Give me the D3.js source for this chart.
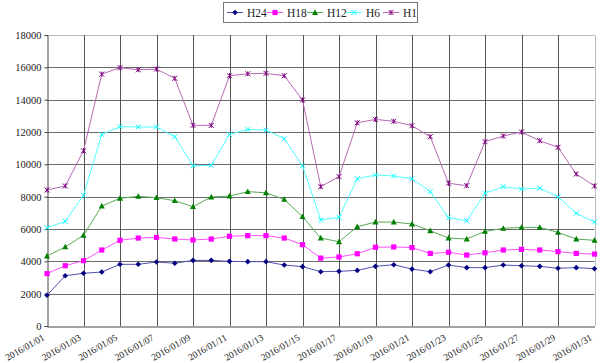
<!DOCTYPE html>
<html><head><meta charset="utf-8">
<script src="https://cdn.jsdelivr.net/npm/d3@7"></script>
<style>body{margin:0;background:#fff}svg{display:block}</style>
</head><body>
<svg id="c" width="600" height="363"></svg>
<script>
const dates = ["2016/01/01","2016/01/02","2016/01/03","2016/01/04","2016/01/05","2016/01/06","2016/01/07","2016/01/08","2016/01/09","2016/01/10","2016/01/11","2016/01/12","2016/01/13","2016/01/14","2016/01/15","2016/01/16","2016/01/17","2016/01/18","2016/01/19","2016/01/20","2016/01/21","2016/01/22","2016/01/23","2016/01/24","2016/01/25","2016/01/26","2016/01/27","2016/01/28","2016/01/29","2016/01/30","2016/01/31"];
const H24 = [1900,3110,3260,3340,3815,3815,3960,3880,4060,4060,4000,3980,3980,3770,3670,3360,3380,3440,3690,3790,3520,3360,3770,3610,3610,3770,3730,3690,3570,3610,3545];
const H18 = [3240,3730,4040,4700,5300,5440,5480,5380,5320,5380,5550,5590,5590,5440,5030,4200,4270,4470,4870,4890,4850,4490,4560,4390,4530,4700,4740,4700,4600,4490,4450];
const H12 = [4330,4890,5610,7420,7900,8020,7940,7750,7380,7980,8040,8310,8240,7830,6760,5440,5210,6140,6430,6430,6310,5890,5440,5380,5850,6040,6100,6100,5790,5380,5300];
const H6  = [6080,6470,8080,11850,12330,12310,12310,11710,9910,9940,11850,12160,12120,11590,9910,6560,6720,9110,9340,9280,9110,8310,6700,6510,8210,8620,8470,8530,7990,6970,6430];
const H1  = [8410,8660,10840,15580,15980,15850,15890,15320,12410,12410,15480,15600,15630,15480,13980,8620,9240,12570,12780,12660,12390,11710,8830,8680,11400,11750,12000,11460,11050,9400,8660];
const yTicks = [0,2000,4000,6000,8000,10000,12000,14000,16000,18000];

const seriesNames = ["H24","H18","H12","H6","H1"];
const seriesData = [H24,H18,H12,H6,H1];
const markColors = ["#000080","#ff00ff","#008000","#00ffff","#800080"];
const lineColors = ["#5050b0","#ff50ff","#55a855","#50ffff","#b468b4"];
const shapes = ["diamond","square","triangle","x","star"];

const svg = d3.select("#c");
const L = 47, R = 594.5, T = 35, B = 326;
const x = d3.scalePoint().domain(dates).range([L, R]);
const y = d3.scaleLinear().domain([0, 18000]).range([B, T]);
const font = "'Liberation Serif', serif";

// gridlines
const g = svg.append("g");
g.selectAll("line.h").data(yTicks.filter(v => v > 0 && v < 18000)).enter().append("line")
  .attr("x1", L).attr("x2", R).attr("y1", d => Math.round(y(d)) + 0.5).attr("y2", d => Math.round(y(d)) + 0.5)
  .attr("stroke", "#6a6a6a").attr("stroke-width", 1);
g.append("line").attr("x1", L).attr("x2", R).attr("y1", Math.round(y(18000)) + 0.5).attr("y2", Math.round(y(18000)) + 0.5)
  .attr("stroke", "#bbbbbb");
const vIdx = dates.filter((d, i) => i % 2 === 0 && i > 0 && i < dates.length - 1);
g.selectAll("line.v").data(vIdx).enter().append("line")
  .attr("x1", d => Math.round(x(d)) + 0.5).attr("x2", d => Math.round(x(d)) + 0.5)
  .attr("y1", T).attr("y2", B).attr("stroke", "#555555");
g.append("line").attr("x1", Math.round(R) + 0.5).attr("x2", Math.round(R) + 0.5).attr("y1", T).attr("y2", B).attr("stroke", "#bbbbbb");

// y axis
const ya = svg.append("g").attr("transform", `translate(${L + 0.5},0)`)
  .call(d3.axisLeft(y).tickValues(yTicks).tickSize(3).tickFormat(d3.format("d")));
ya.select(".domain").attr("stroke", "#444");
ya.selectAll(".tick line").attr("stroke", "#444");
ya.selectAll("text").attr("font-family", font).attr("font-size", 10.5).attr("fill", "#222").attr("x", -6);

// x axis
const xa = svg.append("g").attr("transform", `translate(0,${B + 0.5})`)
  .call(d3.axisBottom(x).tickValues(dates.filter((d, i) => i % 2 === 0)).tickSize(0));
xa.select(".domain").attr("stroke", "#444");
xa.selectAll("text").attr("font-family", font).attr("font-size", 9.5).attr("fill", "#222")
  .attr("text-anchor", "end").attr("dy", "0.35em")
  .attr("transform", "translate(-4,10) rotate(-30)").attr("y", 0).attr("x", 0);

// markers
function drawMarker(sel, shape, color) {
  if (shape === "diamond") sel.append("path").attr("d", "M0,-2.8L2.8,0L0,2.8L-2.8,0Z").attr("fill", color);
  else if (shape === "square") sel.append("rect").attr("x", -2.6).attr("y", -2.6).attr("width", 5.2).attr("height", 5.2).attr("fill", color);
  else if (shape === "triangle") sel.append("path").attr("d", "M0,-3.2L3,2.4L-3,2.4Z").attr("fill", color);
  else if (shape === "x") sel.append("path").attr("d", "M-2.5,-2.5L2.5,2.5M-2.5,2.5L2.5,-2.5").attr("stroke", color).attr("stroke-width", 1).attr("fill", "none");
  else if (shape === "star") sel.append("path").attr("d", "M-2.5,-2.5L2.5,2.5M-2.5,2.5L2.5,-2.5M0,-2.5L0,2.5").attr("stroke", color).attr("stroke-width", 1).attr("fill", "none");
}

const line = d3.line().x((d, i) => x(dates[i])).y(d => y(d));
seriesData.forEach((vals, k) => {
  svg.append("path").datum(vals).attr("d", line).attr("fill", "none")
    .attr("stroke", lineColors[k]).attr("stroke-width", 1);
});
seriesData.forEach((vals, k) => {
  vals.forEach((v, i) => {
    const m = svg.append("g").attr("transform", `translate(${x(dates[i])},${y(v)})`);
    drawMarker(m, shapes[k], markColors[k]);
  });
});

// legend
const lg = svg.append("g");
lg.append("rect").attr("x", 223.5).attr("y", 2.5).attr("width", 194).attr("height", 20)
  .attr("fill", "#fff").attr("stroke", "#777");
const lineX = [227, 267, 307, 346, 383];
seriesNames.forEach((n, k) => {
  const it = lg.append("g");
  it.append("line").attr("x1", lineX[k]).attr("x2", lineX[k] + 16).attr("y1", 12.5).attr("y2", 12.5)
    .attr("stroke", lineColors[k]);
  const m = it.append("g").attr("transform", `translate(${lineX[k] + 8},12.5)`);
  drawMarker(m, shapes[k], markColors[k]);
  it.append("text").attr("x", lineX[k] + 20).attr("y", 12.5).attr("dy", "0.35em")
    .attr("font-family", font).attr("font-size", 11.5).attr("fill", "#222").text(n);
});
</script>
</body></html>
